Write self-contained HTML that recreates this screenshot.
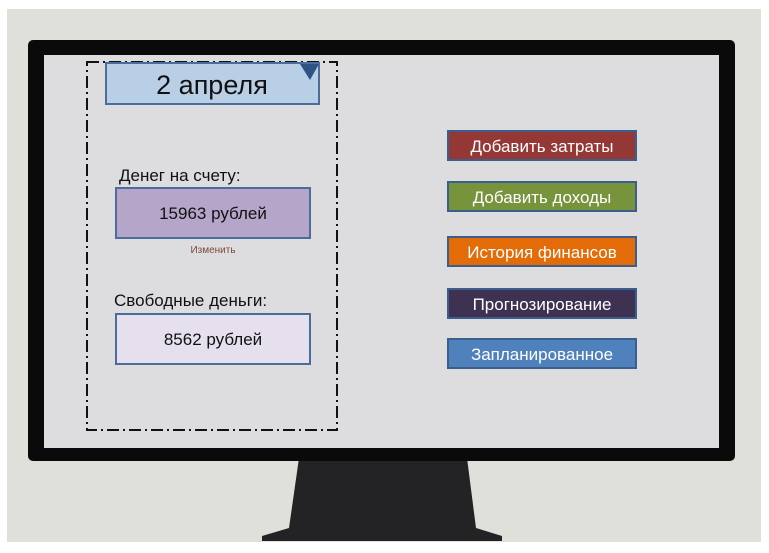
<!DOCTYPE html>
<html><head><meta charset="utf-8"><style>
html,body{margin:0;padding:0;background:#fff;}
svg{display:block;}
text{font-family:"Liberation Sans","DejaVu Sans",sans-serif;}
</style></head><body>
<svg width="769" height="553" viewBox="0 0 769 553" xmlns="http://www.w3.org/2000/svg">
<rect x="0" y="0" width="769" height="553" fill="#ffffff"/>
<rect x="7" y="9" width="754" height="533" fill="#dfe0da"/>
<!-- stand -->
<polygon points="299,458 467,458 476,528 502,536 502,541 262,541 262,536 289,528" fill="#232326"/>
<!-- bezel -->
<rect x="28" y="40" width="707" height="421" rx="5" fill="#0a0a0a"/>
<rect x="44" y="55" width="675" height="393" fill="#dddddf"/>
<!-- dashed box -->
<rect x="87" y="62" width="250" height="368" fill="none" stroke="#111" stroke-width="2" stroke-dasharray="12,4,2,4"/>
<!-- date box -->
<rect x="106" y="63" width="213" height="41" fill="#b9cfe6" stroke="#4a6d9c" stroke-width="2"/>
<polygon points="300,64 319,64 310,80" fill="#2f5382"/>
<text x="212" y="94" font-size="27" text-anchor="middle" fill="#111">2 апреля</text>
<text x="119" y="181" font-size="17" fill="#111">Денег на счету:</text>
<rect x="116" y="188" width="194" height="50" fill="#b4a5c9" stroke="#4a6d9c" stroke-width="2"/>
<text x="213" y="219" font-size="17" text-anchor="middle" fill="#111">15963 рублей</text>
<text x="213" y="253" font-size="10" text-anchor="middle" fill="#7a4a3a">Изменить</text>
<text x="114" y="306" font-size="17" fill="#111">Свободные деньги:</text>
<rect x="116" y="314" width="194" height="50" fill="#e6e0ee" stroke="#4a6d9c" stroke-width="2"/>
<text x="213" y="345" font-size="17" text-anchor="middle" fill="#111">8562 рублей</text>
<!-- buttons -->
<g stroke="#3a5f8f" stroke-width="2" font-size="17" fill="#fff">
<rect x="448" y="131" width="188" height="29" fill="#953735"/>
<rect x="448" y="182" width="188" height="29" fill="#77933c"/>
<rect x="448" y="237" width="188" height="29" fill="#e36c09"/>
<rect x="448" y="289" width="188" height="29" fill="#3f3151"/>
<rect x="448" y="339" width="188" height="29" fill="#4f81bd"/>
</g>
<g font-size="17" fill="#fff" text-anchor="middle">
<text x="542" y="152">Добавить затраты</text>
<text x="542" y="203">Добавить доходы</text>
<text x="542" y="258">История финансов</text>
<text x="542" y="310">Прогнозирование</text>
<text x="542" y="360">Запланированное</text>
</g>
</svg>
</body></html>
